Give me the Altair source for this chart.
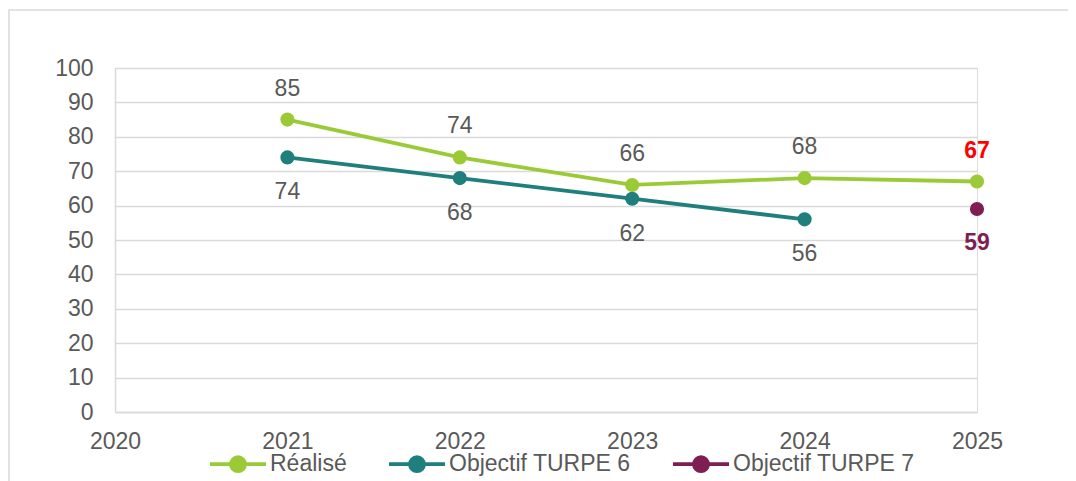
import altair as alt
import pandas as pd

# ---- data ----
years_realise = [2021, 2022, 2023, 2024, 2025]
values_realise = [85, 74, 66, 68, 67]
years_t6 = [2021, 2022, 2023, 2024]
values_t6 = [74, 68, 62, 56]
years_t7 = [2025]
values_t7 = [59]
series_names = ["Réalisé", "Objectif TURPE 6", "Objectif TURPE 7"]
series_colors = ["#9ACB36", "#1F7F7D", "#7E1E52"]
x_ticks = [2020, 2021, 2022, 2023, 2024, 2025]
y_ticks = [0, 10, 20, 30, 40, 50, 60, 70, 80, 90, 100]

rows = []
for y, v in zip(years_realise, values_realise):
    rows.append({"year": y, "value": v, "series": series_names[0]})
for y, v in zip(years_t6, values_t6):
    rows.append({"year": y, "value": v, "series": series_names[1]})
for y, v in zip(years_t7, values_t7):
    rows.append({"year": y, "value": v, "series": series_names[2]})
df = pd.DataFrame(rows)

FONT = "Liberation Sans"
GRAY = "#595959"
GRID = "#D9D9D9"
FS = 23

x_enc = alt.X("year:Q", scale=alt.Scale(domain=[2020, 2025], nice=False, zero=False),
              axis=alt.Axis(values=x_ticks, format="d", title=None, grid=False, ticks=False,
                            domainColor=GRID, domainWidth=1.5, labelPadding=18,
                            labelOverlap=False, labelFlush=False,
                            labelFontSize=FS, labelColor=GRAY, labelFont=FONT))
y_enc = alt.Y("value:Q", scale=alt.Scale(domain=[0, 100], nice=False),
              axis=alt.Axis(values=y_ticks, title=None, grid=True, gridColor=GRID, gridWidth=1.5,
                            ticks=False, domainColor=GRID, domainWidth=1.5, labelPadding=22,
                            labelOverlap=False, labelFlush=False,
                            labelFontSize=FS, labelColor=GRAY, labelFont=FONT))
color_enc = alt.Color("series:N",
                      scale=alt.Scale(domain=series_names, range=series_colors),
                      legend=alt.Legend(title=None, orient="none", direction="horizontal",
                                        legendX=93, legendY=366,
                                        symbolType="M-1,0L1,0M0.25,0A0.25,0.25,0,1,1,-0.25,0A0.25,0.25,0,1,1,0.25,0Z",
                                        symbolSize=3136, symbolStrokeWidth=3.8,
                                        labelFontSize=FS, labelColor=GRAY, labelFont=FONT,
                                        labelLimit=400, labelOffset=2, columnPadding=34))

base = alt.Chart(df)

border = alt.Chart(pd.DataFrame({"a": [0]})).mark_rect(
    filled=False, stroke=GRID, strokeWidth=1.5
).encode(x=alt.value(-106), x2=alt.value(1000), y=alt.value(-58), y2=alt.value(500))

lines = base.mark_line(strokeWidth=3.8).encode(x=x_enc, y=y_enc, color=color_enc, detail="series:N")
points = base.mark_point(filled=True, size=200, opacity=1).encode(x=x_enc, y=y_enc, color=color_enc)

txt_kw = dict(font=FONT, fontSize=FS, baseline="middle", align="center")
t_realise = base.transform_filter(
    (alt.datum.series == series_names[0]) & (alt.datum.year < 2025)
).mark_text(dy=-31, color=GRAY, **txt_kw).encode(x=x_enc, y=y_enc, text="value:Q")
t_realise_last = base.transform_filter(
    (alt.datum.series == series_names[0]) & (alt.datum.year == 2025)
).mark_text(dy=-31, color="#FF0000", fontWeight="bold", **txt_kw).encode(x=x_enc, y=y_enc, text="value:Q")
t_t6 = base.transform_filter(alt.datum.series == series_names[1]).mark_text(
    dy=35, color=GRAY, **txt_kw).encode(x=x_enc, y=y_enc, text="value:Q")
t_t7 = base.transform_filter(alt.datum.series == series_names[2]).mark_text(
    dy=34, color=series_colors[2], fontWeight="bold", **txt_kw).encode(x=x_enc, y=y_enc, text="value:Q")

chart = alt.layer(border, lines, points, t_realise, t_realise_last, t_t6, t_t7).properties(
    width=862, height=344,
    autosize=alt.AutoSizeParams(type="none"),
    padding={"left": 107, "top": 60, "right": 91, "bottom": 75},
).configure_view(stroke=None).configure(background="white")

chart.save("out.html", embed_options={"renderer": "svg", "actions": False})
